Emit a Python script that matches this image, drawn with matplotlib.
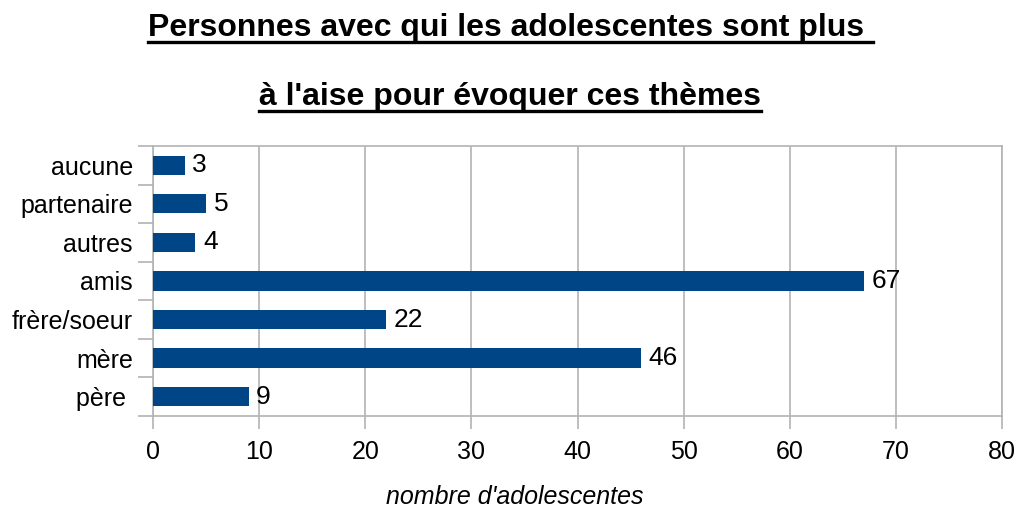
import matplotlib
matplotlib.use("Agg")
import matplotlib.pyplot as plt
from matplotlib.lines import Line2D

categories = ["père ", "mère", "frère/soeur", "amis", "autres", "partenaire", "aucune"]
values = [9, 46, 22, 67, 4, 5, 3]
xticks = [0, 10, 20, 30, 40, 50, 60, 70, 80]
title_lines = ["Personnes avec qui les adolescentes sont plus ", "à l'aise pour évoquer ces thèmes"]

plt.rcParams['font.family'] = ['Liberation Sans', 'DejaVu Sans']
bar_color = "#004586"
grid_color = "#b3b3b3"

fig = plt.figure(figsize=(10.18, 5.09), dpi=100)
ax = fig.add_axes([0.1503, 0.1827, 0.8340, 0.5305])

y = list(range(len(categories)))
ax.barh(y, values, height=0.5, color=bar_color, zorder=3)
for yi, v in zip(y, values):
    ax.text(v + 0.7, yi, str(v), va='center', ha='left', fontsize=19, zorder=4)

ax.set_xlim(0, 80)
ax.set_ylim(-0.5, len(categories) - 0.5)
ax.set_xticks(xticks)
ax.set_xticklabels([str(t) for t in xticks], fontsize=18)
ax.set_yticks(y)
ax.set_yticklabels(categories, fontsize=18)
ax.tick_params(axis='y', length=0, pad=14.5)
# separators between categories on the left axis
ax.set_yticks([i - 0.5 for i in range(len(categories) + 1)], minor=True)
ax.tick_params(axis='y', which='minor', length=11, color=grid_color, width=1.2)
ax.tick_params(axis='x', length=9, color=grid_color, width=1.2, pad=8)
ax.grid(axis='x', color=grid_color, linewidth=1.2, zorder=0)
for s in ax.spines.values():
    s.set_color(grid_color)
    s.set_linewidth(1.2)

ax.set_xlabel("nombre d'adolescentes", fontsize=18, style='italic')
ax.xaxis.label.set_va('center')
ax.xaxis.set_label_coords(0.4266, -0.30)

# title with underline
title_y = [1 - 28 / 509, 1 - 97 / 509]
texts = []
for line, ty in zip(title_lines, title_y):
    t = fig.text(0.501, ty, line, ha='center', va='center', fontsize=23,
                 fontweight='bold')
    texts.append(t)

fig.canvas.draw()
renderer = fig.canvas.get_renderer()
inv = fig.transFigure.inverted()
for t in texts:
    bb = t.get_window_extent(renderer)
    (x0, y0), (x1, y1) = inv.transform([(bb.x0, bb.y0), (bb.x1, bb.y1)])
    uy = y0 + (y1 - y0) * 0.05
    fig.add_artist(Line2D([x0, x1], [uy, uy], color='black', linewidth=2.4,
                          transform=fig.transFigure))

fig.savefig("out.png", dpi=100)
